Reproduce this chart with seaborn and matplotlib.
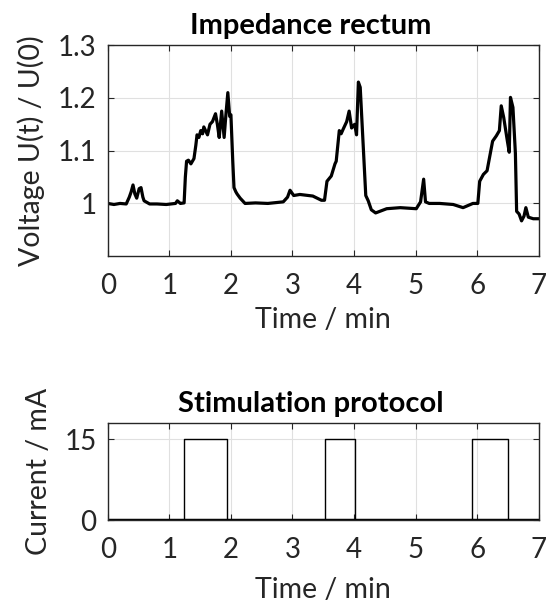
# plot.py
# Rectal impedance during stimulation + stimulation protocol

import matplotlib
matplotlib.use('Agg')
import matplotlib.pyplot as plt
import seaborn as sns
import pandas as pd

# ── Impedance signal ──────────────────────────────────────
imp_time = [0.00, 0.10, 0.20, 0.30, 0.35, 0.38, 0.41, 0.44, 0.47, 0.51, 0.54, 0.57, 0.59,
            0.68, 0.80, 0.95, 1.10, 1.13, 1.18, 1.24, 1.26, 1.28, 1.31, 1.35,
            1.40, 1.43, 1.45, 1.48, 1.51, 1.54, 1.56, 1.60, 1.62, 1.66, 1.70, 1.75,
            1.78, 1.81, 1.85, 1.89, 1.92, 1.95, 1.98, 2.00, 2.03, 2.05, 2.08,
            2.10, 2.15, 2.23, 2.40, 2.60, 2.85, 2.92, 2.96, 3.02, 3.12, 3.33,
            3.47, 3.52, 3.56, 3.63, 3.69, 3.71, 3.76, 3.79, 3.82, 3.88, 3.92, 3.96,
            4.01, 4.04, 4.07, 4.10, 4.15, 4.19, 4.23, 4.28, 4.35, 4.53, 4.75,
            5.01, 5.08, 5.13, 5.16, 5.22, 5.39, 5.61, 5.77, 5.93, 6.01, 6.04,
            6.10, 6.16, 6.20, 6.25, 6.31, 6.36, 6.39, 6.43, 6.49, 6.52, 6.54,
            6.58, 6.62, 6.64, 6.68, 6.72, 6.76, 6.79, 6.83, 6.91, 7.00]
imp_value = [1.000, 0.998, 1.000, 0.999, 1.012, 1.022, 1.035, 1.018, 1.010, 1.028, 1.030, 1.012, 1.005,
             0.999, 0.999, 0.998, 1.000, 1.005, 1.000, 1.001, 1.050, 1.080, 1.082, 1.075,
             1.085, 1.110, 1.130, 1.125, 1.138, 1.132, 1.145, 1.135, 1.130, 1.150, 1.155, 1.170,
             1.150, 1.125, 1.175, 1.125, 1.170, 1.210, 1.165, 1.168, 1.080, 1.030, 1.022,
             1.018, 1.010, 1.000, 1.001, 1.000, 1.003, 1.012, 1.025, 1.015, 1.017, 1.014,
             1.006, 1.006, 1.042, 1.052, 1.075, 1.080, 1.138, 1.132, 1.140, 1.155, 1.175, 1.143,
             1.150, 1.130, 1.230, 1.220, 1.106, 1.015, 1.005, 0.988, 0.982, 0.990, 0.992,
             0.990, 1.003, 1.046, 1.003, 1.000, 1.000, 0.998, 0.992, 1.000, 1.000, 1.042,
             1.055, 1.062, 1.087, 1.118, 1.128, 1.138, 1.185, 1.163, 1.118, 1.097, 1.201,
             1.182, 1.095, 0.985, 0.980, 0.967, 0.976, 0.992, 0.974, 0.971, 0.971]

# ── Stimulation protocol ──────────────────────────────────
pulse_start = [1.24, 3.52, 5.92]
pulse_end   = [1.93, 4.02, 6.50]
pulse_amp   = 15
t_end       = 7.0

# step signal from the pulse table
stim_time  = [0.0]
stim_value = [0]
for s, e in zip(pulse_start, pulse_end):
    stim_time  += [s, e]
    stim_value += [pulse_amp, 0]
stim_time.append(t_end)
stim_value.append(0)

imp_df  = pd.DataFrame({'t': imp_time, 'v': imp_value})
stim_df = pd.DataFrame({'t': stim_time, 'i': stim_value})

sns.set_theme(style='whitegrid')
plt.rcParams['font.family'] = ['Lato', 'DejaVu Sans']
plt.rcParams['axes.edgecolor'] = '#262626'
plt.rcParams['grid.color'] = '#e0e0e0'

fig = plt.figure(figsize=(5.47, 6.10), dpi=100)
ax1 = fig.add_axes([0.197, 0.580, 0.788, 0.346])
ax2 = fig.add_axes([0.197, 0.1475, 0.788, 0.159])

TICK_FS = 20
LABEL_FS = 20.5
TITLE_FS = 21

# ── Top: impedance ────────────────────────────────────────
sns.lineplot(data=imp_df, x='t', y='v', ax=ax1, color='black',
             linewidth=2.3, estimator=None, sort=False)
ax1.set_xlim(0, 7)
ax1.set_ylim(0.9, 1.3)
ax1.set_xticks(range(8))
ax1.set_yticks([1.0, 1.1, 1.2, 1.3])
ax1.set_yticklabels(['1', '1.1', '1.2', '1.3'])
ax1.set_title('Impedance rectum', fontsize=TITLE_FS, fontweight='bold',
              color='black', pad=8, x=0.47)
ax1.set_xlabel('Time / min', fontsize=LABEL_FS, color='#262626', labelpad=6)
ax1.set_ylabel('Voltage U(t) / U(0)', fontsize=LABEL_FS, color='#262626', labelpad=9)

# ── Bottom: stimulation protocol ──────────────────────────
sns.lineplot(data=stim_df, x='t', y='i', ax=ax2, color='black',
             linewidth=1.0, estimator=None, sort=False, drawstyle='steps-post')
ax2.axhline(0, color='black', linewidth=2.5)
ax2.set_xlim(0, 7)
ax2.set_ylim(0, 18)
ax2.set_xticks(range(8))
ax2.set_yticks([0, 15])
ax2.set_title('Stimulation protocol', fontsize=TITLE_FS, fontweight='bold',
              color='black', pad=8, x=0.47)
ax2.set_xlabel('Time / min', fontsize=LABEL_FS, color='#262626', labelpad=10)
ax2.set_ylabel('Current / mA', fontsize=LABEL_FS, color='#262626', labelpad=9)

for ax in (ax1, ax2):
    ax.tick_params(axis='both', labelsize=TICK_FS, colors='#262626',
                   direction='in', length=4, width=0.8,
                   top=True, right=True, bottom=True, left=True)
    ax.tick_params(axis='x', pad=12)
    ax.tick_params(axis='y', pad=8)
    for sp in ax.spines.values():
        sp.set_linewidth(1.0)
        sp.set_color('#262626')
    ax.grid(True, linewidth=0.8)

fig.savefig('out.png', dpi=100)
plt.close(fig)
